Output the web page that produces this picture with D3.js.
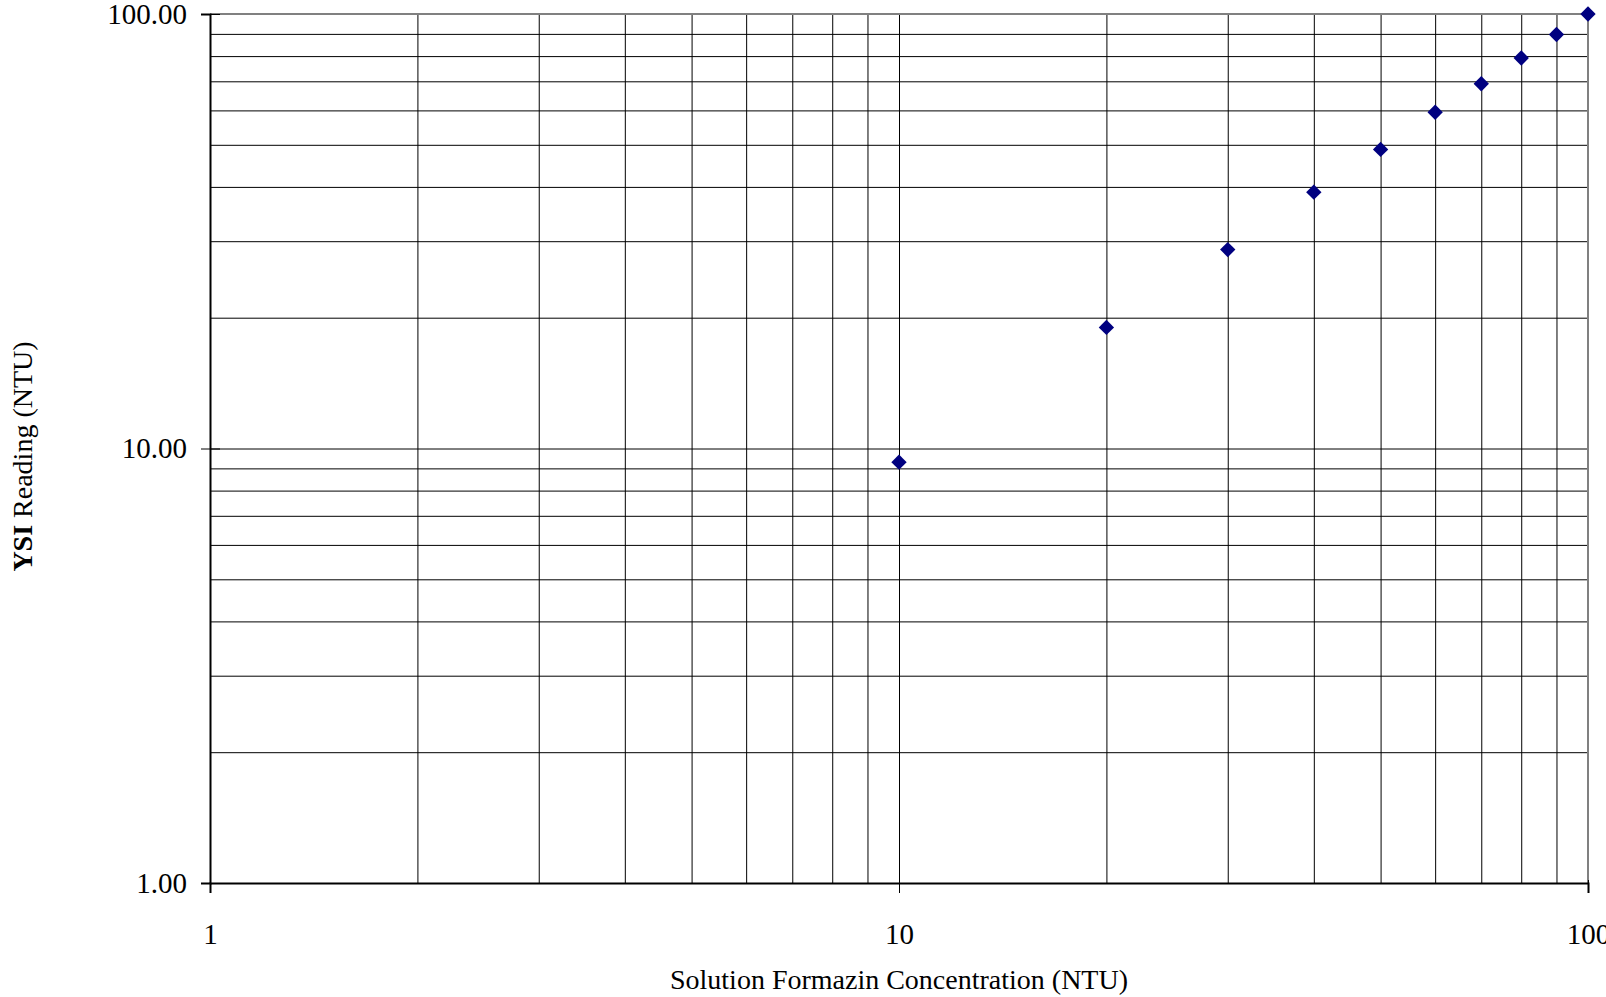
<!DOCTYPE html>
<html>
<head>
<meta charset="utf-8">
<script src="https://cdn.jsdelivr.net/npm/d3@7"></script>
<style>
  body { margin: 0; background: #fff; }
  svg { display: block; font-family: "Liberation Serif", "DejaVu Serif", serif; }
  .axis text { font-size: 29px; fill: #000; }
  .grid line { stroke: #000; stroke-width: 1; }
</style>
</head>
<body>
<svg id="chart"></svg>
<script>
// Solution Formazin concentration (NTU) vs YSI reading (NTU)
const concentration = [10, 20, 30, 40, 50, 60, 70, 80, 90, 100];
const ysiReading = [9.3, 19.0, 28.7, 38.9, 48.8, 59.4, 69.1, 79.2, 89.7, 100.0];

const xTickValues = [1, 10, 100];
const yTickValues = [1, 10, 100];
const xTitle = 'Solution Formazin Concentration (NTU)';
const yTitleBold = 'YSI';
const yTitleRest = ' Reading (NTU)';

const config = {
    containerWidth: 1606,
    containerHeight: 997,
    margin: {top: 14, right: 18, bottom: 114, left: 210},
    markerColor: '#000080',
    font: '"Liberation Serif", "DejaVu Serif", serif'
};

const width = config.containerWidth - config.margin.left - config.margin.right;
const height = config.containerHeight - config.margin.top - config.margin.bottom;

const svg = d3.select('#chart')
    .attr('width', config.containerWidth)
    .attr('height', config.containerHeight);

const chart = svg.append('g')
    .attr('transform', `translate(${config.margin.left},${config.margin.top})`);

// log scales
const xScale = d3.scaleLog().domain([1, 100]).range([0, width]);
const yScale = d3.scaleLog().domain([1, 100]).range([height, 0]);

// gridlines (every 1..9 of each decade)
chart.append('g')
    .attr('class', 'grid')
    .attr('transform', `translate(0,${height})`)
    .call(d3.axisBottom(xScale).tickValues(xScale.ticks()).tickSize(-height).tickFormat(''))
    .call(g => g.select('.domain').remove());

chart.append('g')
    .attr('class', 'grid')
    .call(d3.axisLeft(yScale).tickValues(yScale.ticks()).tickSize(-width).tickFormat(''))
    .call(g => g.select('.domain').remove());

// frame: top/right grey, left/bottom black
chart.append('line')
    .attr('x1', 0).attr('x2', width).attr('y1', 0).attr('y2', 0)
    .attr('stroke', '#808080').attr('stroke-width', 2);
chart.append('line')
    .attr('x1', width).attr('x2', width).attr('y1', 0).attr('y2', height)
    .attr('stroke', '#808080').attr('stroke-width', 2);

// x axis with labels
const xAxisG = chart.append('g')
    .attr('class', 'axis x-axis')
    .attr('transform', `translate(0,${height})`)
    .call(d3.axisBottom(xScale).tickValues(xTickValues).tickSize(10).tickPadding(30).tickFormat(d3.format('d')))
    .attr('font-family', config.font);
xAxisG.select('.domain').attr('stroke', '#000').attr('stroke-width', 2);
xAxisG.selectAll('.tick line').attr('stroke', '#000').attr('y1', -3);

// y axis with labels
const yAxisG = chart.append('g')
    .attr('class', 'axis y-axis')
    .call(d3.axisLeft(yScale).tickValues(yTickValues).tickSize(9).tickPadding(14).tickFormat(d3.format('.2f')))
    .attr('font-family', config.font);
yAxisG.select('.domain').attr('stroke', '#000').attr('stroke-width', 2);
yAxisG.selectAll('.tick line').attr('stroke', '#000').attr('x2', 10).attr('x1', -9);

// points
const diamond = d3.symbol().type(d3.symbolDiamond2).size(150);
chart.selectAll('.point')
    .data(concentration.map((c, i) => ({x: c, y: ysiReading[i]})))
    .join('path')
    .attr('class', 'point')
    .attr('d', diamond)
    .attr('fill', config.markerColor)
    .attr('transform', d => `translate(${xScale(d.x)},${yScale(d.y)})`);

// axis titles
svg.append('text')
    .attr('x', config.margin.left + xScale(10))
    .attr('y', 989)
    .attr('text-anchor', 'middle')
    .attr('font-size', 28)
    .text(xTitle);

const yTitle = svg.append('text')
    .attr('transform', `translate(32,${config.margin.top + height / 2 + 8}) rotate(-90)`)
    .attr('text-anchor', 'middle')
    .attr('font-size', 28);
yTitle.append('tspan').attr('font-weight', 'bold').text(yTitleBold);
yTitle.append('tspan').text(yTitleRest);
</script>
</body>
</html>
